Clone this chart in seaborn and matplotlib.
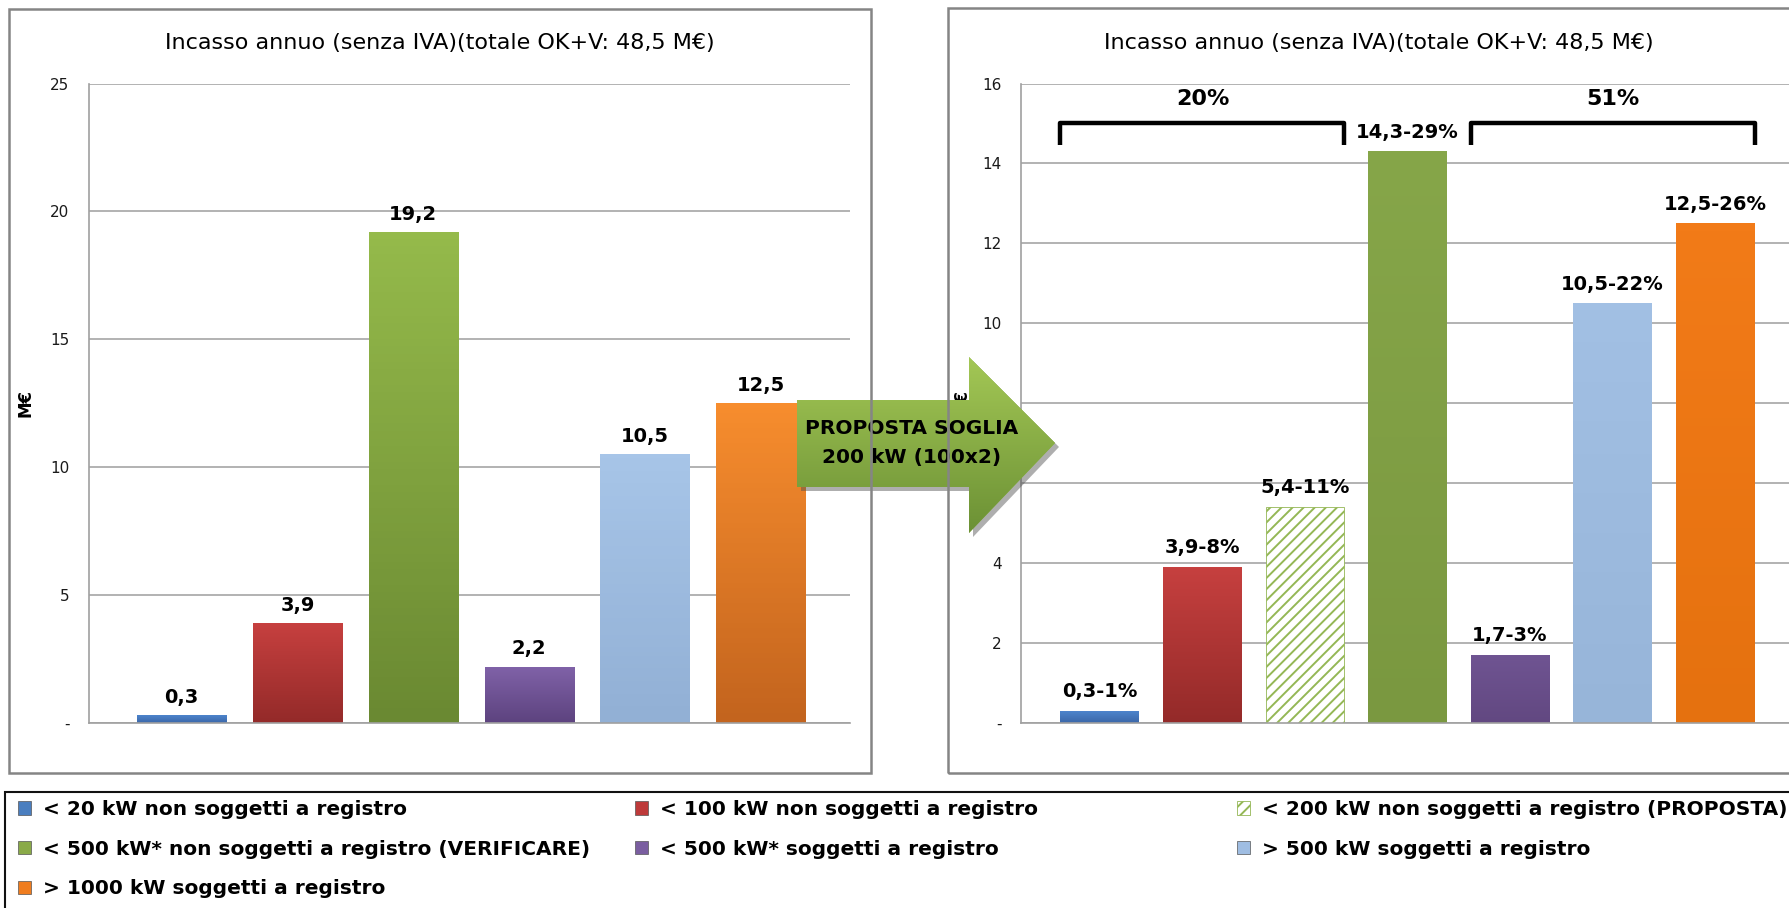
import numpy as np
import pandas as pd
import seaborn as sns
import matplotlib.pyplot as plt
from matplotlib.patches import Patch, Polygon, Rectangle
from matplotlib.colors import LinearSegmentedColormap

# ---- data -------------------------------------------------------------
categories = [
    "< 20 kW non soggetti a registro",
    "< 100 kW non soggetti a registro",
    "< 200 kW non soggetti a registro (PROPOSTA)",
    "< 500 kW* non soggetti a registro (VERIFICARE)",
    "< 500 kW* soggetti a registro",
    "> 500 kW soggetti a registro",
    "> 1000 kW soggetti a registro",
]
current_categories = [c for i, c in enumerate(categories) if i != 2]
current_values = [0.3, 3.9, 19.2, 2.2, 10.5, 12.5]
proposed_values = [0.3, 3.9, 5.4, 14.3, 1.7, 10.5, 12.5]
proposed_shares = [1, 8, 11, 29, 3, 22, 26]
group_members = [(0, 2), (4, 6)]
group_shares = ["20%", "51%"]
title = "Incasso annuo (senza IVA)(totale OK+V: 48,5 M€)"
arrow_text = ["PROPOSTA SOGLIA", "200 kW (100x2)"]

# ---- styles -----------------------------------------------------------
flat = {
    categories[0]: "#4a7ebf", categories[1]: "#be3a3a", categories[2]: "#94b755",
    categories[3]: "#8aaa48", categories[4]: "#7a5ea0", categories[5]: "#9fbde2",
    categories[6]: "#f07d1f",
}
grad_left = {
    categories[0]: ("#4d84cc", "#3b67a8"), categories[1]: ("#c6403f", "#942a29"),
    categories[3]: ("#95ba4b", "#6a8932"), categories[4]: ("#8062a8", "#5d437f"),
    categories[5]: ("#a7c5e8", "#92b0d5"), categories[6]: ("#f78d2e", "#c3641e"),
}
grad_right = {
    categories[0]: ("#4d84cc", "#3b67a8"), categories[1]: ("#c6403f", "#942a29"),
    categories[3]: ("#86a649", "#7a9840"), categories[4]: ("#6f5492", "#624881"),
    categories[5]: ("#a2c0e4", "#97b5d9"), categories[6]: ("#f27b18", "#e5710f"),
}

W, H = 1790, 908
sns.set_theme(style="white")
plt.rcParams["font.family"] = ["DejaVu Sans"]
plt.rcParams["text.color"] = "black"
plt.rcParams["hatch.linewidth"] = 1.4


def fig_rect(x0, y0, x1, y1):
    return [x0 / W, 1 - y1 / H, (x1 - x0) / W, (y1 - y0) / H]


def shade(ax, patch, top, bottom):
    cmap = LinearSegmentedColormap.from_list("g", [top, bottom])
    grad = np.linspace(0, 1, 64).reshape(-1, 1)
    x, y = patch.get_x(), patch.get_y()
    w, h = patch.get_width(), patch.get_height()
    im = ax.imshow(grad, extent=(x, x + w, y, y + h), origin="upper", cmap=cmap,
                   aspect="auto", zorder=patch.get_zorder() + 0.1)
    im.set_clip_path(patch)


def style_axes(ax, ymax, step, xlim):
    ax.set_xlim(*xlim)
    ax.set_ylim(0, ymax)
    ticks = np.arange(0, ymax + step, step)
    ax.set_yticks(ticks)
    ax.set_yticklabels(["-"] + [str(int(t)) for t in ticks[1:]])
    ax.set_xticks([])
    ax.set_xlabel("")
    ax.tick_params(axis="y", length=0, pad=14, labelsize=11, labelcolor="#1a1a1a")
    ax.yaxis.grid(True, color="#a6a6a6", lw=1.2)
    ax.set_axisbelow(True)
    for s in ["top", "right"]:
        ax.spines[s].set_visible(False)
    for s in ["left", "bottom"]:
        ax.spines[s].set_color("#a0a0a0")
        ax.spines[s].set_linewidth(1.2)


fig = plt.figure(figsize=(W / 100, H / 100), dpi=100, facecolor="white")

# panel frames
for x0, y0, x1, y1 in [(9, 9, 871, 773), (948, 8, 1810, 773)]:
    fig.add_artist(Rectangle((x0 / W, 1 - y1 / H), (x1 - x0) / W, (y1 - y0) / H,
                             transform=fig.transFigure, fill=False,
                             ec="#858585", lw=1.8))
fig.add_artist(Rectangle((5 / W, 1 - 920 / H), 1800 / W, 128 / H,
                         transform=fig.transFigure, fill=False, ec="#111111", lw=1.5))

# ---- left chart: current -----------------------------------------------
ax1 = fig.add_axes(fig_rect(89, 83.5, 850, 723))
df1 = pd.DataFrame({"categoria": current_categories, "valore": current_values})
sns.barplot(data=df1, x="categoria", y="valore", hue="categoria",
            order=current_categories, hue_order=current_categories,
            palette=[flat[c] for c in current_categories], width=0.77,
            saturation=1, legend=False, linewidth=0, ax=ax1)
for cont, cat, val in zip(ax1.containers, current_categories, current_values):
    shade(ax1, cont[0], *grad_left[cat])
    ax1.bar_label(cont, labels=[f"{val:.1f}".replace(".", ",")], padding=6,
                  fontsize=14, fontweight="bold", color="black")
style_axes(ax1, 25, 5, (-0.80, 5.77))
ax1.set_ylabel("M€", fontsize=12, fontweight="bold", color="black")
ax1.yaxis.set_label_coords(-0.072, 0.5)
fig.text(440 / W, 1 - 43 / H, title, ha="center", va="center", fontsize=16,
         color="black")

# ---- right chart: proposal ---------------------------------------------
ax2 = fig.add_axes(fig_rect(1021, 83.5, 1794, 723))
df2 = pd.DataFrame({"categoria": categories, "valore": proposed_values})
sns.barplot(data=df2, x="categoria", y="valore", hue="categoria",
            order=categories, hue_order=categories,
            palette=[flat[c] for c in categories], width=0.77,
            saturation=1, legend=False, linewidth=0, ax=ax2)
bars = []
for cont, cat, val, share in zip(ax2.containers, categories, proposed_values,
                                 proposed_shares):
    bar = cont[0]
    bars.append(bar)
    if cat in grad_right:
        shade(ax2, bar, *grad_right[cat])
    else:
        bar.set_facecolor("white")
        bar.set_edgecolor(flat[cat])
        bar.set_linewidth(0.6)
        bar.set_hatch("///")
    ax2.bar_label(cont, labels=[f"{val:.1f}".replace(".", ",") + f"-{share}%"],
                  padding=7, fontsize=14, fontweight="bold", color="black")
style_axes(ax2, 16, 2, (-0.77, 6.77))
ax2.set_ylabel("M€", fontsize=12, fontweight="bold", color="black")
ax2.yaxis.set_label_coords(-0.065, 0.5)
fig.text(1379 / W, 1 - 43 / H, title, ha="center", va="center", fontsize=16,
         color="black")

# group brackets
for (i0, i1), share in zip(group_members, group_shares):
    x0 = bars[i0].get_x()
    x1 = bars[i1].get_x() + bars[i1].get_width()
    ax2.plot([x0, x0, x1, x1], [14.45, 15.02, 15.02, 14.45], color="black",
             lw=3.2, solid_joinstyle="round", solid_capstyle="butt", clip_on=False)
    ax2.text((x0 + x1) / 2, 15.62, share, ha="center", va="center",
             fontsize=16, fontweight="bold", color="black")

# ---- arrow between the charts -------------------------------------------
axa = fig.add_axes(fig_rect(790, 350, 1066, 542))
axa.set_xlim(790, 1066)
axa.set_ylim(542, 350)
axa.axis("off")
pts = np.array([(797, 400), (969, 400), (969, 357), (1055, 443),
                (969, 533), (969, 487), (797, 487)])
axa.add_patch(Polygon(pts + 4, closed=True, fc="#4d4d4d", ec="none", alpha=0.45))
shape = Polygon(pts, closed=True, fc="#8ab446", ec="none")
axa.add_patch(shape)
cmap = LinearSegmentedColormap.from_list("arrow", ["#a3c755", "#6c9135"])
im = axa.imshow(np.linspace(0, 1, 64).reshape(-1, 1), extent=(797, 1055, 533, 357),
                origin="upper", cmap=cmap, aspect="auto", zorder=2)
im.set_clip_path(shape)
axa.set_xlim(790, 1066)
axa.set_ylim(542, 350)
for txt, y in zip(arrow_text, [428, 458]):
    axa.text(912, y, txt, ha="center", va="center", fontsize=14.5,
             fontweight="bold", color="black", zorder=3)

# ---- legend (three columns, filled row-wise) ------------------------------
handles = []
for cat in categories:
    if cat == categories[2]:
        handles.append(Patch(fc="white", ec=flat[cat], hatch="///", lw=0.6, label=cat))
    else:
        handles.append(Patch(fc=flat[cat], ec="#555555", lw=0.5, label=cat))
col_x = [18, 635, 1237]
for col, x in enumerate(col_x):
    hs = handles[col::3]
    leg = fig.legend(handles=hs, loc="upper left", bbox_to_anchor=(x / W, 1 - 800 / H),
                     frameon=False, prop={"weight": "bold", "size": 14.5},
                     handlelength=0.65, handleheight=0.65, handletextpad=0.6,
                     labelspacing=1.03, borderpad=0, borderaxespad=0)
    for t in leg.get_texts():
        t.set_color("black")

fig.savefig("out.png", dpi=100, facecolor="white")
